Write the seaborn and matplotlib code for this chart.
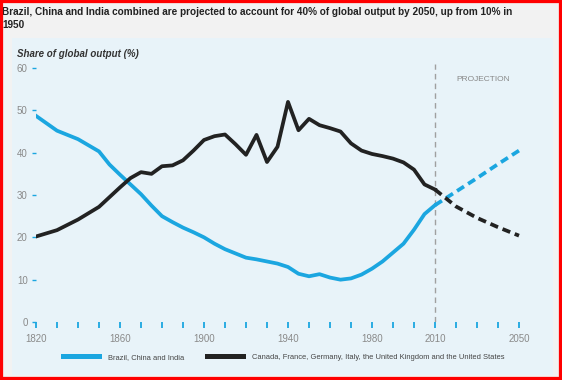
import pandas as pd
import seaborn as sns
import matplotlib.pyplot as plt
from matplotlib import font_manager
from matplotlib.lines import Line2D
from matplotlib.patches import Rectangle

# historical values (share of global output, %)
years = [1820, 1830, 1840, 1850, 1855, 1860, 1865, 1870, 1875, 1880, 1885, 1890,
         1895, 1900, 1905, 1910, 1915, 1920, 1925, 1930, 1935, 1940, 1945, 1950,
         1955, 1960, 1965, 1970, 1975, 1980, 1985, 1990, 1995, 2000, 2005, 2010]
bci = [48.7, 45.2, 43.2, 40.3, 37.2, 34.8, 32.5, 30.2, 27.5, 25.0, 23.6, 22.3,
       21.2, 20.0, 18.5, 17.2, 16.2, 15.2, 14.8, 14.3, 13.8, 13.0, 11.4, 10.8,
       11.3, 10.5, 10.0, 10.3, 11.2, 12.6, 14.3, 16.4, 18.5, 21.8, 25.5, 27.6]
g6 = [20.2, 21.7, 24.2, 27.2, 29.5, 31.8, 34.0, 35.4, 35.0, 36.8, 37.0, 38.2,
      40.5, 43.0, 43.9, 44.3, 42.0, 39.5, 44.2, 37.8, 41.4, 52.0, 45.3, 48.0,
      46.5, 45.8, 45.0, 42.2, 40.5, 39.7, 39.2, 38.6, 37.7, 36.0, 32.5, 31.3]

# projection
proj_years = [2010, 2020, 2030, 2040, 2050]
bci_proj = [27.6, 30.8, 34.0, 37.3, 40.5]
g6_proj = [31.3, 27.3, 24.6, 22.4, 20.4]

BCI = "Brazil, China and India"
G6 = "Canada, France, Germany, Italy, the United Kingdom and the United States"
x_labels = {1820: "1820", 1860: "1860", 1900: "1900", 1940: "1940",
            1980: "1980", 2010: "2010", 2050: "2050"}

rows = []
for y, a, b in zip(years, bci, g6):
    rows.append((y, a, BCI, "hist"))
    rows.append((y, b, G6, "hist"))
for y, a, b in zip(proj_years, bci_proj, g6_proj):
    rows.append((y, a, BCI, "proj"))
    rows.append((y, b, G6, "proj"))
df = pd.DataFrame(rows, columns=["year", "share", "series", "period"])

# a condensed face if one is around
has_cond = any(f.name == "DejaVu Sans" and f.stretch == "condensed"
               for f in font_manager.fontManager.ttflist)
stretch = "condensed" if has_cond else "normal"
plt.rcParams['font.family'] = ['Liberation Sans', 'DejaVu Sans']

blue = "#1ba6e0"
black = "#222222"
grey = "#8a8a8a"

fig = plt.figure(figsize=(5.62, 3.80), dpi=100, facecolor="#f2f2f2")
fig.patches.append(Rectangle((12 / 562, 5 / 380), 541 / 562, 337 / 380,
                             transform=fig.transFigure, facecolor="#e8f3f9",
                             edgecolor="none", zorder=-10))

ax = fig.add_axes([36 / 562, 58 / 380, 504 / 562, 258.2 / 380])
ax.set_facecolor("none")

sns.lineplot(data=df, x="year", y="share", hue="series", style="period",
             palette={BCI: blue, G6: black},
             dashes={"hist": "", "proj": (2.2, 1.3)},
             estimator=None, linewidth=2.7, legend=False, ax=ax)

ax.axvline(2010, color="#a0a0a0", lw=1, dashes=(4, 3), zorder=0)

ax.set_xlim(1820, 2060)
ax.set_ylim(0, 61)
ax.set_xticks(list(range(1820, 2051, 10)))
ax.set_xticklabels([x_labels.get(t, "") for t in range(1820, 2051, 10)])
ax.set_yticks(range(0, 61, 10))
ax.tick_params(axis="x", direction="out", length=4, width=1.3, color=blue,
               labelsize=7, labelcolor=grey, pad=5)
ax.tick_params(axis="y", direction="out", length=3, width=1, color=blue,
               labelsize=7, labelcolor=grey, pad=3)
for s in ax.spines.values():
    s.set_visible(False)
ax.set_xlabel("")
ax.set_ylabel("")

ax.text(2033, 57.2, "PROJECTION", ha="center", va="center", fontsize=6,
        color="#888888")

t1 = fig.text(2 / 562, 1 - 12 / 380,
              "Brazil, China and India combined are projected to account for 40% of global output by 2050, up from 10% in",
              fontsize=9.5, fontweight="bold", color="#222222", va="center", ha="left",
              fontstretch=stretch)
t2 = fig.text(2 / 562, 1 - 25 / 380, "1950", fontsize=9.5, fontweight="bold",
              color="#222222", va="center", ha="left", fontstretch=stretch)
fig.text(17 / 562, 1 - 54 / 380, "Share of global output (%)", fontsize=7,
         fontweight="bold", fontstyle="italic", color="#333333", va="center")

handles = [Line2D([], [], color=blue, lw=3.6), Line2D([], [], color=black, lw=3.6)]
fig.legend(handles, [BCI, G6], loc="center", bbox_to_anchor=(284 / 562, 1 - 357 / 380),
           ncol=2, frameon=False, fontsize=5.4, labelcolor="#444444",
           handlelength=4.8, handletextpad=1.2, columnspacing=3.0)

# squeeze the title so it spans about as wide as in the source
r = fig.canvas.get_renderer()
w = t1.get_window_extent(r).width
size = 9.5 * 508 / w
t1.set_fontsize(size)
t2.set_fontsize(size)

# red frame around the image
fig.patches.append(Rectangle((0, 0), 1, 1, transform=fig.transFigure, fill=False,
                             edgecolor="#ff0000", lw=4.5, zorder=10))

fig.savefig("out.png", dpi=100, facecolor=fig.get_facecolor())
